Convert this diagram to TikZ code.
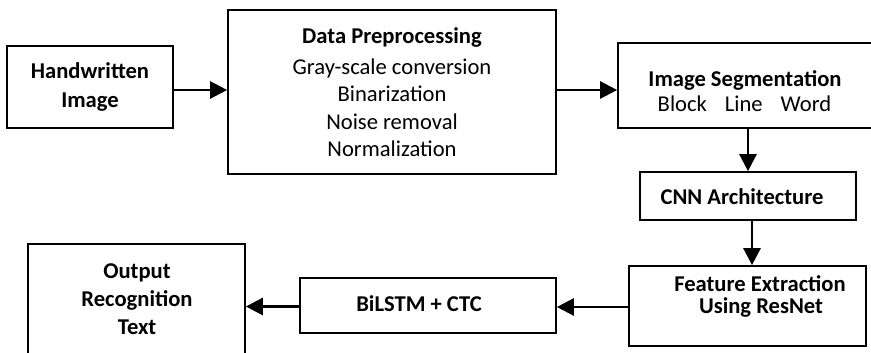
\documentclass[tikz,border=0pt]{standalone}
\usepackage{fontspec}
\setmainfont{Carlito}
\usetikzlibrary{arrows.meta}
\begin{document}
\begin{tikzpicture}[x=1pt,y=-1pt,
  box/.style={draw=black, line width=1.7pt, inner sep=0pt},
  txt/.style={anchor=base, inner sep=0pt, font=\fontsize{22.6}{27}\selectfont},
  btxt/.style={txt, font=\fontsize{22.6}{27}\selectfont\bfseries},
  arr/.style={line width=2.6pt, -{Triangle[length=17pt,width=17pt]}}]
\useasboundingbox (0,0) rectangle (871,353);
\clip (0,0) rectangle (871,353);

% boxes
\node[box, minimum width=166, minimum height=82] (hw) at (90,87) {};
\node[box, minimum width=328, minimum height=164] (dp) at (392,92) {};
\node[box, minimum width=256, minimum height=85] (seg) at (746,85.5) {};
\node[box, minimum width=216, minimum height=48] (cnn) at (748,196) {};
\node[box, minimum width=237, minimum height=80] (feat) at (747.5,306) {};
\node[box, minimum width=256, minimum height=55] (bil) at (428,305.5) {};
\node[box, minimum width=217, minimum height=126] (out) at (136.5,307) {};

% labels
\node[btxt] (hw1) at (90,79) {Handwritten};
\node[btxt] (hw2) at (90,107) {Image};

\node[btxt] (dp0) at (392,44) {Data Preprocessing};
\node[txt] (dp1) at (392,75) {Gray-scale conversion};
\node[txt] (dp2) at (392,102) {Binarization};
\node[txt] (dp3) at (392,129.5) {Noise removal};
\node[txt] (dp4) at (392,157) {Normalization};

\node[btxt] (seg1) at (745,87) {Image Segmentation};
\node[txt] (seg2) at (744.5,111) {Block\hspace{18pt}Line\hspace{18pt}Word};

\node[btxt] (cnn1) at (742,204) {CNN Architecture};

\node[btxt] (feat1) at (760,291) {Feature Extraction};
\node[btxt] (feat2) at (761,313) {Using ResNet};

\node[btxt] (bil1) at (419,311) {BiLSTM + CTC};

\node[btxt] (out1) at (137,278) {Output};
\node[btxt] (out2) at (137,306) {Recognition};
\node[btxt] (out3) at (137,334) {Text};

% connectors
\draw[arr] ([yshift=-3pt]hw.east) -- ([yshift=-3pt]hw.east -| dp.west);
\draw[arr] ([yshift=2pt]dp.east) -- ([yshift=2pt]dp.east -| seg.west);
\draw[arr] (cnn.north |- seg.south) -- (cnn.north);
\draw[arr] ([xshift=4pt]cnn.south) -- ([xshift=4pt]cnn.south |- feat.north);
\draw[arr] ([yshift=-1pt]feat.west) -- ([yshift=-1pt]feat.west -| bil.east);
\draw[arr] ([yshift=-1pt]bil.west) -- ([yshift=-1pt]bil.west -| out.east);
\end{tikzpicture}
\end{document}
